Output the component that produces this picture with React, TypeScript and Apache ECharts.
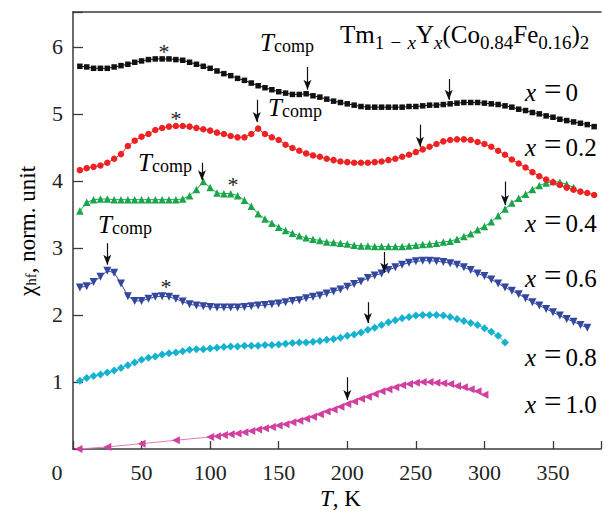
import React, { useEffect, useRef } from "react";
import * as echarts from "echarts";

// Temperature grid (K) of the measured points
const T_GRID = [5, 10, 15, 20, 25, 30, 35, 40, 45, 50, 55, 60, 65, 70, 75, 80, 85, 90, 95, 100,
  105, 110, 115, 120, 125, 130, 135, 140, 145, 150, 155, 160, 165, 170, 175, 180, 185, 190, 195, 200,
  205, 210, 215, 220, 225, 230, 235, 240, 245, 250, 255, 260, 265, 270, 275, 280, 285, 290, 295, 300,
  305, 310, 315, 320, 325, 330, 335, 340, 345, 350, 355, 360, 365, 370, 375, 380];

const X00 = [5.71, 5.70, 5.68, 5.68, 5.68, 5.70, 5.72, 5.74, 5.77, 5.79,
  5.81, 5.82, 5.82, 5.82, 5.81, 5.80, 5.77, 5.74, 5.71, 5.68,
  5.64, 5.60, 5.57, 5.53, 5.50, 5.46, 5.42, 5.39, 5.36, 5.33,
  5.31, 5.29, 5.29, 5.30, 5.27, 5.25, 5.22, 5.19, 5.17, 5.15,
  5.13, 5.11, 5.10, 5.10, 5.10, 5.10, 5.10, 5.10, 5.11, 5.11,
  5.12, 5.13, 5.13, 5.14, 5.15, 5.16, 5.17, 5.17, 5.17, 5.16,
  5.15, 5.14, 5.12, 5.10, 5.07, 5.05, 5.02, 5.00, 4.97, 4.95,
  4.92, 4.90, 4.88, 4.86, 4.84, 4.81];

const X02 = [4.16, 4.19, 4.21, 4.23, 4.27, 4.33, 4.40, 4.52, 4.60, 4.66,
  4.70, 4.76, 4.79, 4.81, 4.82, 4.82, 4.81, 4.79, 4.77, 4.75,
  4.72, 4.70, 4.67, 4.65, 4.65, 4.70, 4.78, 4.70, 4.65, 4.61,
  4.54, 4.49, 4.45, 4.41, 4.38, 4.36, 4.33, 4.31, 4.29, 4.28,
  4.27, 4.27, 4.27, 4.28, 4.29, 4.31, 4.33, 4.36, 4.39, 4.43,
  4.47, 4.51, 4.55, 4.59, 4.61, 4.62, 4.62, 4.61, 4.58, 4.55,
  4.51, 4.45, 4.39, 4.32, 4.26, 4.20, 4.13, 4.07, 4.02, 3.98,
  3.94, 3.90, 3.87, 3.84, 3.82, 3.79];

const X04 = [3.55, 3.68, 3.72, 3.73, 3.73, 3.72, 3.72, 3.72, 3.72, 3.72,
  3.72, 3.72, 3.72, 3.72, 3.72, 3.73, 3.78, 3.87, 3.99, 3.90,
  3.82, 3.81, 3.81, 3.78, 3.71, 3.62, 3.51, 3.43, 3.37, 3.31,
  3.26, 3.22, 3.18, 3.15, 3.13, 3.11, 3.09, 3.08, 3.07, 3.06,
  3.04, 3.03, 3.03, 3.02, 3.02, 3.02, 3.02, 3.02, 3.03, 3.04,
  3.05, 3.06, 3.07, 3.09, 3.10, 3.13, 3.17, 3.21, 3.27, 3.32,
  3.39, 3.48, 3.58, 3.67, 3.74, 3.80, 3.87, 3.93, 3.97, 3.99,
  3.98, 3.95, 3.90];

const X06 = [2.41, 2.43, 2.49, 2.57, 2.66, 2.63, 2.47, 2.28, 2.21, 2.21,
  2.24, 2.27, 2.28, 2.27, 2.24, 2.20, 2.16, 2.14, 2.13, 2.12,
  2.11, 2.11, 2.11, 2.11, 2.12, 2.13, 2.14, 2.15, 2.16, 2.17,
  2.19, 2.21, 2.22, 2.25, 2.27, 2.29, 2.32, 2.35, 2.38, 2.42,
  2.46, 2.50, 2.55, 2.59, 2.62, 2.67, 2.71, 2.75, 2.78, 2.80,
  2.81, 2.81, 2.80, 2.79, 2.77, 2.75, 2.71, 2.67, 2.62, 2.58,
  2.53, 2.47, 2.41, 2.36, 2.31, 2.25, 2.19, 2.14, 2.09, 2.04,
  1.99, 1.94, 1.90, 1.85, 1.81];

const X08 = [1.02, 1.06, 1.09, 1.11, 1.14, 1.17, 1.21, 1.25, 1.29, 1.33,
  1.36, 1.38, 1.41, 1.43, 1.44, 1.46, 1.48, 1.49, 1.49, 1.50,
  1.51, 1.52, 1.53, 1.53, 1.54, 1.54, 1.54, 1.55, 1.55, 1.56,
  1.57, 1.58, 1.59, 1.59, 1.60, 1.61, 1.63, 1.64, 1.66, 1.69,
  1.71, 1.74, 1.78, 1.81, 1.85, 1.89, 1.92, 1.95, 1.97, 1.99,
  2.00, 2.00, 2.00, 1.99, 1.97, 1.94, 1.91, 1.88, 1.85, 1.80,
  1.75, 1.69, 1.59];

const T_X10 = [4, 25, 50, 75, 100, 105, 110, 115, 120, 125, 130, 135, 140, 145, 150,
  155, 160, 165, 170, 175, 180, 185, 190, 195, 200, 205, 210, 215, 220, 225, 230,
  235, 240, 245, 250, 255, 260, 265, 270, 275, 280, 285, 290, 295, 300];
const X10 = [0.00, 0.03, 0.08, 0.13, 0.18, 0.19, 0.21, 0.22, 0.23, 0.25, 0.27, 0.29, 0.31, 0.33, 0.35,
  0.37, 0.40, 0.42, 0.45, 0.48, 0.52, 0.56, 0.59, 0.63, 0.67, 0.71, 0.75, 0.78, 0.82, 0.86, 0.89,
  0.92, 0.95, 0.97, 0.99, 1.00, 1.00, 0.99, 0.98, 0.97, 0.94, 0.92, 0.89, 0.86, 0.81];

// Arrows: [T, from, to]
const ARROWS = [
  [171, 5.70, 5.36], [274, 5.52, 5.21],
  [134, 5.21, 4.88], [253, 4.84, 4.51],
  [94, 4.27, 4.01], [315, 3.99, 3.64],
  [25, 3.07, 2.75], [227, 2.94, 2.63],
  [215, 2.19, 1.88],
  [200, 1.07, 0.73],
];

const X_TICKS = [0, 50, 100, 150, 200, 250, 300, 350];
const Y_TICKS = [1, 2, 3, 4, 5, 6];
const CURVE_LABELS = ["0", "0.2", "0.4", "0.6", "0.8", "1.0"];

const FONT = '"Liberation Serif", "Times New Roman", serif';
const TXT = "#222";

const pair = (ts: number[], vs: number[]) => vs.map((v, i) => [ts[i], v]);

export default function App() {
  const ref = useRef<HTMLDivElement>(null);
  useEffect(() => {
    document.body.style.margin = "0";
    if (!ref.current) return;
    const chart = echarts.init(ref.current, undefined, { renderer: "svg" });

    const mk = (name: string, data: number[][], color: string, symbol: string, size: number, rotate = 0, lineColor?: string) => ({
      name,
      type: "line",
      data,
      symbol,
      symbolSize: size,
      symbolRotate: rotate,
      showAllSymbol: true,
      lineStyle: { color: lineColor || color, width: 1 },
      itemStyle: { color },
      emphasis: { disabled: true },
      z: 3,
    });

    const tk = (fs: number, lh: number, italic = false, extra: any = {}) => ({
      fontFamily: FONT, fontSize: fs, lineHeight: lh, verticalAlign: "bottom", color: TXT,
      fontStyle: italic ? "italic" : "normal", ...extra,
    });

    const tcomp = (x: number, y: number) => ({
      type: "text", x, y,
      style: {
        text: "{i|T}{s|comp}",
        align: "left", verticalAlign: "top",
        rich: { i: tk(25, 25, true), s: tk(18, 8) },
      },
    });
    const star = (x: number, y: number) => ({
      type: "text", x, y,
      style: { text: "*", fontFamily: FONT, fontSize: 22, fill: "#222", align: "center", verticalAlign: "top" },
    });
    const xlab = (y: number, val: string) => ({
      type: "text", x: 525, y,
      style: {
        text: "{i|x}{g1| }{e|=}{g2| }{n|" + val + "}",
        align: "left", verticalAlign: "top",
        rich: {
          i: tk(25, 26, true),
          g1: tk(10, 26, false, { width: 8 }),
          e: tk(31, 28),
          g2: tk(10, 26, false, { width: 4 }),
          n: tk(25, 26),
        },
      },
    });
    const LABEL_Y = [77, 132, 208, 263, 342, 389];

    const option: any = {
      animation: false,
      grid: { left: 73, top: 12, right: 0, bottom: 63 },
      xAxis: [
        {
          type: "value", min: 0, max: 385, interval: 50,
          axisLine: { onZero: false, lineStyle: { color: "#3a3a3a", width: 1.5 } },
          axisTick: { inside: true, length: 8, lineStyle: { color: "#3a3a3a", width: 1.3 } },
          axisLabel: {
            formatter: (v: number) => (v > 0 && X_TICKS.includes(v) ? String(v) : ""),
            fontFamily: FONT, fontSize: 22, color: TXT, margin: 12,
          },
          splitLine: { show: false },
        },
        {
          type: "value", position: "top", min: 0, max: 385,
          axisLine: { onZero: false, lineStyle: { color: "#3a3a3a", width: 1.5 } },
          axisTick: { show: false }, axisLabel: { show: false }, splitLine: { show: false },
        },
      ],
      yAxis: {
        type: "value", min: 0, max: 6.52, interval: 1,
        axisLine: { onZero: false, lineStyle: { color: "#3a3a3a", width: 1.5 } },
        axisTick: { inside: true, length: 10, lineStyle: { color: "#3a3a3a", width: 1.3 } },
        axisLabel: {
          formatter: (v: number) => (Y_TICKS.includes(v) ? String(v) : ""),
          fontFamily: FONT, fontSize: 22, color: TXT, margin: 10,
        },
        splitLine: { show: false },
      },
      series: [
        mk("x=1.0", pair(T_X10, X10), "#d23f9f", "triangle", 8, 90, "#e07ac0"),
        mk("x=0.8", pair(T_GRID, X08), "#14b2cf", "diamond", 8),
        mk("x=0.6", pair(T_GRID, X06), "#34479f", "triangle", 8, 180),
        mk("x=0.4", pair(T_GRID, X04), "#19a64b", "triangle", 7.5),
        mk("x=0.2", pair(T_GRID, X02), "#ee2222", "circle", 6.5),
        {
          ...mk("x=0", pair(T_GRID, X00), "#111111", "rect", 5.5),
          markLine: {
            silent: true,
            symbol: ["none", "arrow"],
            symbolSize: [6, 10],
            animation: false,
            label: { show: false },
            lineStyle: { color: "#111", width: 1.2, type: "solid" },
            itemStyle: { color: "#111" },
            emphasis: { disabled: true },
            data: ARROWS.map((a) => [{ coord: [a[0], a[1]] }, { coord: [a[0], a[2]] }]),
          },
        },
      ],
      graphic: [
        {
          type: "text", x: 340, y: 27,
          style: {
            text: "{a|Tm}{s|1\u2004−\u2004}{si|x}{a|Y}{si|x}{a|(Co}{s|0.84}{a|Fe}{s|0.16}{a|)}{s|2}",
            align: "left", verticalAlign: "top",
            rich: {
              a: tk(25, 25, false, { padding: [0, 0, 5, 0] }),
              s: tk(19, 19),
              si: tk(19, 19, true),
            },
          },
        },
        ...CURVE_LABELS.map((v, i) => xlab(LABEL_Y[i], v)),
        tcomp(260, 30), tcomp(268, 95), tcomp(138, 150), tcomp(98, 212),
        star(164, 40), star(176, 107), star(233, 173), star(166, 275),
        {
          type: "text", x: 57, y: 472,
          style: { text: "0", fontFamily: FONT, fontSize: 22, fill: TXT, align: "center", verticalAlign: "middle" },
        },
        {
          type: "text", x: 320, y: 491,
          style: {
            text: "{i|T}{n|, K}", align: "left", verticalAlign: "top",
            rich: { i: tk(23, 19, true), n: tk(23, 19) },
          },
        },
        {
          type: "text", x: 27, y: 231, rotation: Math.PI / 2,
          style: {
            text: "{n|χ}{s|hf}{n|, norm. unit}", align: "center", verticalAlign: "middle",
            rich: { n: tk(23, 23), s: tk(15, 8) },
          },
        },
      ],
    };
    chart.setOption(option);
    return () => chart.dispose();
  }, []);
  return <div ref={ref} style={{ width: 604, height: 512 }} />;
}
